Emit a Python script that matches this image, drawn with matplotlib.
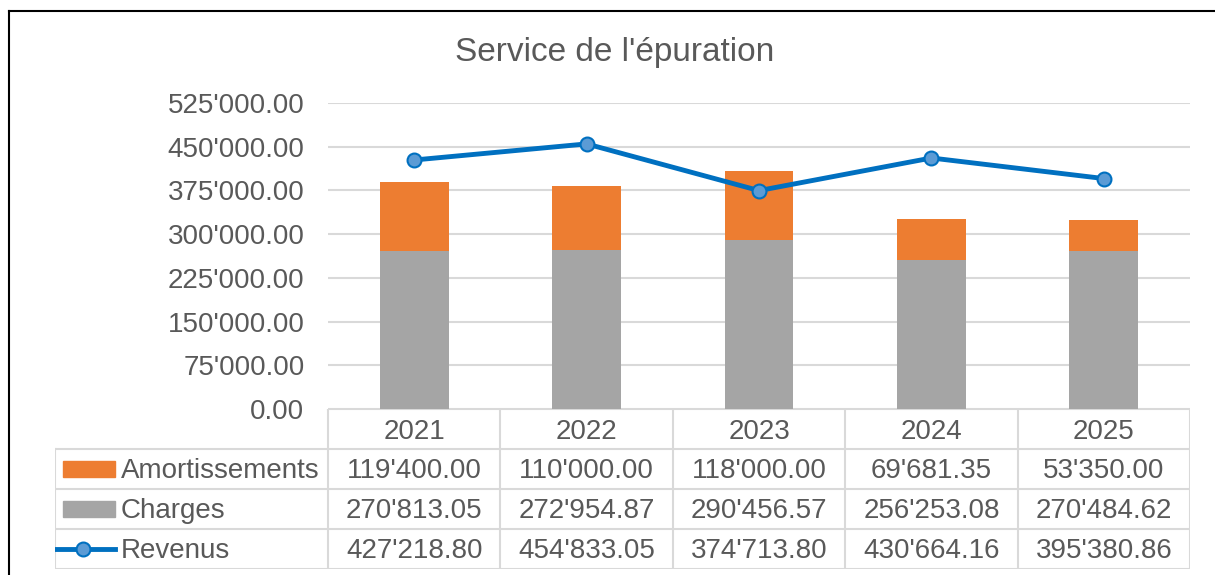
import matplotlib.pyplot as plt
from matplotlib.lines import Line2D
from matplotlib.patches import Rectangle

plt.rcParams['font.family'] = ['Liberation Sans', 'DejaVu Sans']

years = ["2021", "2022", "2023", "2024", "2025"]
amortissements = [119400.00, 110000.00, 118000.00, 69681.35, 53350.00]
charges = [270813.05, 272954.87, 290456.57, 256253.08, 270484.62]
revenus = [427218.80, 454833.05, 374713.80, 430664.16, 395380.86]
yticks = [0, 75000, 150000, 225000, 300000, 375000, 450000, 525000]

ORANGE = "#ED7D31"
GRAY = "#A5A5A5"
BLUE = "#0070C0"
TXT = "#595959"
GRID = "#D9D9D9"


def fmt(v):
    return f"{v:,.2f}".replace(",", "'")


W, H = 1215, 575
fig = plt.figure(figsize=(W / 100, H / 100), dpi=100)

# plot area in pixels
px_l, px_r, px_t, px_b = 328, 1190, 103, 409
ax = fig.add_axes([px_l / W, 1 - px_b / H, (px_r - px_l) / W, (px_b - px_t) / H])
x = list(range(len(years)))
ax.bar(x, charges, width=0.4, color=GRAY, zorder=2)
ax.bar(x, amortissements, width=0.4, bottom=charges, color=ORANGE, zorder=2)
ax.plot(x, revenus, color=BLUE, lw=3.5, marker="o", ms=10,
        mfc="#5B9BD5", mec=BLUE, mew=1.5, zorder=3, clip_on=False)
ax.set_xlim(-0.5, len(years) - 0.5)
ax.set_ylim(0, 525000)
ax.set_yticks(yticks)
ax.set_yticklabels([fmt(v) for v in yticks])
ax.set_xticks([])
ax.tick_params(axis="y", length=0, pad=17, labelsize=20, labelcolor=TXT)
ax.grid(axis="y", color=GRID, lw=1.5, zorder=0)
for s in ax.spines.values():
    s.set_visible(False)

# data table under the plot
unit = (px_r - px_l) / len(years)
t_l, t_b = 55, 569
tax = fig.add_axes([t_l / W, 1 - t_b / H, (px_r - t_l) / W, (t_b - px_b) / H])
x0 = -0.5 - (px_l - t_l) / unit
tax.set_xlim(x0, len(years) - 0.5)
tax.set_ylim(4, 0)
tax.axis("off")

lkw = dict(color=GRID, lw=1.5)
# horizontal lines
tax.plot([-0.5, len(years) - 0.5], [0, 0], **lkw)
for r in [1, 2, 3, 4]:
    tax.plot([x0, len(years) - 0.5], [r, r], **lkw)
# vertical lines
tax.plot([x0, x0], [1, 4], **lkw)
for i in range(len(years) + 1):
    tax.plot([i - 0.5, i - 0.5], [0, 4], **lkw)

for i, yr in enumerate(years):
    tax.text(i, 0.58, yr, ha="center", va="center", fontsize=20, color=TXT)

rows = [("Amortissements", amortissements), ("Charges", charges), ("Revenus", revenus)]
for r, (name, vals) in enumerate(rows, start=1):
    for i, v in enumerate(vals):
        tax.text(i, r + 0.55, fmt(v), ha="center", va="center", fontsize=20, color=TXT)
    tax.text(x0 + (121 - t_l) / unit, r + 0.55, name, ha="left", va="center",
             fontsize=20, color=TXT)

# legend keys
k0, k1 = x0 + (63 - t_l) / unit, x0 + (115 - t_l) / unit
tax.add_patch(Rectangle((k0, 1.3), k1 - k0, 0.4, color=ORANGE))
tax.add_patch(Rectangle((k0, 2.3), k1 - k0, 0.4, color=GRAY))
l0 = x0 + (50 - t_l) / unit
tax.plot([l0, k1], [3.5, 3.5], color=BLUE, lw=3.5)
tax.plot([(l0 + k1) / 2], [3.5], marker="o", ms=10, mfc="#5B9BD5", mec=BLUE, mew=1.5)

fig.text(615 / W, 1 - 52 / H, "Service de l'épuration", ha="center", va="center",
         fontsize=24, color=TXT)

# outer border (top and left visible)
fig.add_artist(Line2D([9 / W, 9 / W], [0, 1 - 11 / H], color="black", lw=1.5))
fig.add_artist(Line2D([9 / W, 1], [1 - 11 / H, 1 - 11 / H], color="black", lw=1.5))

fig.savefig("out.png", dpi=100)
